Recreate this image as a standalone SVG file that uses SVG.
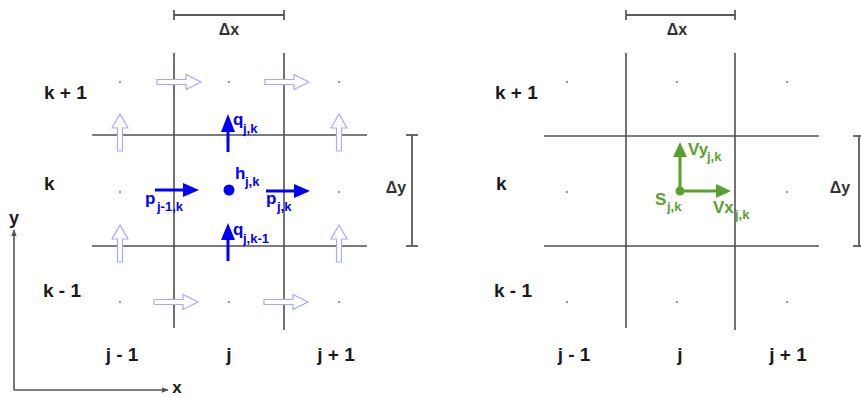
<svg xmlns="http://www.w3.org/2000/svg" width="861" height="397" viewBox="0 0 861 397">
<style>
.grid{stroke:#505050;stroke-width:1.6;fill:none}
.dim{stroke:#5a5a5a;stroke-width:1.8;fill:none}
.dot{fill:#707070}
.lbl{font-family:"Liberation Sans",Arial,sans-serif;font-weight:bold;font-size:19px;fill:#1a1a1a}
.dl{font-family:"Liberation Sans",Arial,sans-serif;font-weight:bold;font-size:16px;fill:#333}
.hollow{fill:#fff;stroke:#a8a8ff;stroke-width:1.2}
.blue{stroke:#0000ff;stroke-width:3;fill:none}
.bluef{fill:#0000ff}
.bt{font-family:"Liberation Sans",Arial,sans-serif;font-weight:bold;font-size:17px;fill:#0000ff}
.green{stroke:#5b9f2d;stroke-width:3;fill:none}
.greenf{fill:#5b9f2d}
.gt{font-family:"Liberation Sans",Arial,sans-serif;font-weight:bold;font-size:17px;fill:#5b9f2d}
.sub{font-size:13px}
.axis{stroke:#555;stroke-width:1.6;fill:none}
</style>
<defs>
<polygon id="hr" points="0,-2.5 29,-2.5 29,-7.5 44,0 29,7.5 29,2.5 0,2.5"/>
<polygon id="hu" points="-2.5,0 -2.5,-23 -8,-23 0,-37 8,-23 2.5,-23 2.5,0"/>
<marker id="ax" viewBox="0 0 10 10" refX="9" refY="5" markerWidth="7" markerHeight="7" orient="auto" markerUnits="userSpaceOnUse">
<path d="M0,1 L10,5 L0,9 z" fill="#555"/>
</marker>
</defs>

<!-- LEFT PANEL -->
<g id="left-grid" class="grid">
<line x1="174" y1="53" x2="174" y2="328"/>
<line x1="284" y1="53" x2="284" y2="330"/>
<line x1="92" y1="135" x2="367" y2="135"/>
<line x1="92" y1="246" x2="367" y2="246"/>
</g>
<g id="left-dims">
<g class="dim">
<line x1="174" y1="15" x2="284" y2="15"/>
<line x1="174" y1="10" x2="174" y2="20"/>
<line x1="284" y1="10" x2="284" y2="20"/>
<line x1="412" y1="135" x2="412" y2="246"/>
<line x1="406" y1="135" x2="418" y2="135"/>
<line x1="406" y1="246" x2="418" y2="246"/>
</g>
<text class="dl" x="229" y="35" text-anchor="middle">Δx</text>
<text class="dl" x="396" y="193" text-anchor="middle">Δy</text>
</g>
<g id="left-dots" class="dot">
<circle cx="120" cy="82" r="1"/><circle cx="229" cy="82" r="1"/><circle cx="339" cy="82" r="1"/>
<circle cx="120" cy="192" r="1"/><circle cx="339" cy="192" r="1"/>
<circle cx="120" cy="302" r="1"/><circle cx="229" cy="302" r="1"/><circle cx="339" cy="302" r="1"/>
</g>
<g id="left-labels" class="lbl">
<text x="44" y="99">k + 1</text>
<text x="44" y="190">k</text>
<text x="43" y="297">k - 1</text>
<text x="122" y="361" text-anchor="middle">j - 1</text>
<text x="229" y="361" text-anchor="middle">j</text>
<text x="336" y="361" text-anchor="middle">j + 1</text>
</g>
<g id="hollow-arrows" class="hollow">
<use href="#hr" x="157" y="82"/>
<use href="#hr" x="265" y="82"/>
<use href="#hr" x="154" y="302"/>
<use href="#hr" x="264" y="302"/>
<use href="#hu" x="120" y="151"/>
<use href="#hu" x="339" y="151"/>
<use href="#hu" x="120" y="262"/>
<use href="#hu" x="339" y="262"/>
</g>
<g id="q-jk">
<line class="blue" x1="228" y1="152" x2="228" y2="130"/>
<polygon class="bluef" points="221,132 228,114 235,132"/>
<text class="bt" x="233" y="125">q<tspan class="sub" x="243" y="133">j,k</tspan></text>
</g>
<g id="h-jk">
<circle class="bluef" cx="229" cy="190" r="5.5"/>
<text class="bt" x="235" y="179">h<tspan class="sub" x="245" y="186">j,k</tspan></text>
</g>
<g id="p-j-1k">
<line class="blue" x1="155" y1="190" x2="186" y2="190"/>
<polygon class="bluef" points="183,183 199,190 183,197"/>
<text class="bt" x="145" y="204">p<tspan class="sub" x="157" y="211">j-1,k</tspan></text>
</g>
<g id="p-jk">
<line class="blue" x1="266" y1="191" x2="297" y2="191"/>
<polygon class="bluef" points="294,184 310,191 294,198"/>
<text class="bt" x="266" y="204">p<tspan class="sub" x="277" y="211">j,k</tspan></text>
</g>
<g id="q-jk-1">
<line class="blue" x1="228" y1="261" x2="228" y2="238"/>
<polygon class="bluef" points="221,240 228,223 235,240"/>
<text class="bt" x="233" y="235">q<tspan class="sub" x="243" y="243">j,k-1</tspan></text>
</g>
<g id="axes">
<line class="axis" x1="14" y1="390" x2="14" y2="230" marker-end="url(#ax)"/>
<line class="axis" x1="14" y1="390" x2="168" y2="390" marker-end="url(#ax)"/>
<text class="lbl" x="14" y="224" text-anchor="middle" style="font-size:18px">y</text>
<text class="lbl" x="177" y="393" text-anchor="middle" style="font-size:17px">x</text>
</g>

<!-- RIGHT PANEL -->
<g id="right-grid" class="grid">
<line x1="626" y1="53" x2="626" y2="328"/>
<line x1="735" y1="53" x2="735" y2="330"/>
<line x1="544" y1="136" x2="819" y2="136"/>
<line x1="544" y1="246" x2="819" y2="246"/>
</g>
<g id="right-dims">
<g class="dim">
<line x1="626" y1="15" x2="735" y2="15"/>
<line x1="626" y1="10" x2="626" y2="20"/>
<line x1="735" y1="10" x2="735" y2="20"/>
<line x1="859" y1="136" x2="859" y2="246"/>
<line x1="853" y1="136" x2="861" y2="136"/>
<line x1="853" y1="246" x2="861" y2="246"/>
</g>
<text class="dl" x="677" y="35" text-anchor="middle">Δx</text>
<text class="dl" x="840" y="193" text-anchor="middle">Δy</text>
</g>
<g id="right-dots" class="dot">
<circle cx="567" cy="82" r="1"/><circle cx="677" cy="82" r="1"/><circle cx="787" cy="82" r="1"/>
<circle cx="567" cy="192" r="1"/><circle cx="787" cy="192" r="1"/>
<circle cx="567" cy="302" r="1"/><circle cx="677" cy="302" r="1"/><circle cx="787" cy="302" r="1"/>
</g>
<g id="right-labels" class="lbl">
<text x="495" y="99">k + 1</text>
<text x="496" y="190">k</text>
<text x="494" y="297">k - 1</text>
<text x="574" y="361" text-anchor="middle">j - 1</text>
<text x="680" y="361" text-anchor="middle">j</text>
<text x="788" y="361" text-anchor="middle">j + 1</text>
</g>
<g id="S-jk">
<circle class="greenf" cx="680" cy="191" r="4.5"/>
<text class="gt" x="655" y="205">S<tspan class="sub" x="667" y="211">j,k</tspan></text>
</g>
<g id="Vy-jk">
<line class="green" x1="680" y1="191" x2="680" y2="155"/>
<polygon class="greenf" points="673,157 680,142 687,157"/>
<text class="gt" x="688" y="155">Vy<tspan class="sub" x="707" y="161">j,k</tspan></text>
</g>
<g id="Vx-jk">
<line class="green" x1="680" y1="191" x2="718" y2="191"/>
<polygon class="greenf" points="716,184 731,191 716,198"/>
<text class="gt" x="713" y="213">Vx<tspan class="sub" x="735" y="219">j,k</tspan></text>
</g>
</svg>
